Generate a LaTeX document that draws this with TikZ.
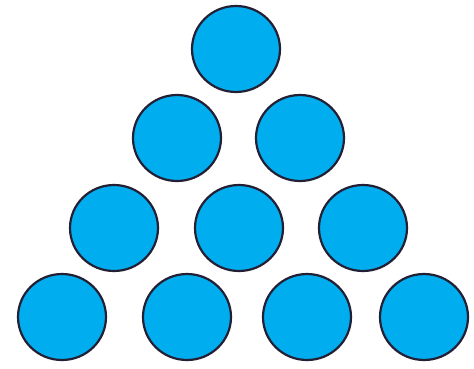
\documentclass[tikz,border=0pt]{standalone}
\usetikzlibrary{shapes.geometric}
\definecolor{ballfill}{HTML}{00AEEF}
\definecolor{balledge}{HTML}{231F35}
\begin{document}
\begin{tikzpicture}[x=1pt,y=-1pt,
  ball/.style={ellipse,draw=balledge,fill=ballfill,line width=2.2pt,
    minimum width=88pt,minimum height=86pt,inner sep=0pt}]
\useasboundingbox (0,0) rectangle (474,368);
\node[ball] (a1) at (236,49) {};
\node[ball] (b1) at (177,138) {};
\node[ball] (b2) at (300,138) {};
\node[ball] (c1) at (114,228) {};
\node[ball] (c2) at (239,228) {};
\node[ball] (c3) at (363,228) {};
\node[ball] (d1) at (62,317) {};
\node[ball] (d2) at (187,317) {};
\node[ball] (d3) at (307,317) {};
\node[ball] (d4) at (424,317) {};
\end{tikzpicture}
\end{document}
